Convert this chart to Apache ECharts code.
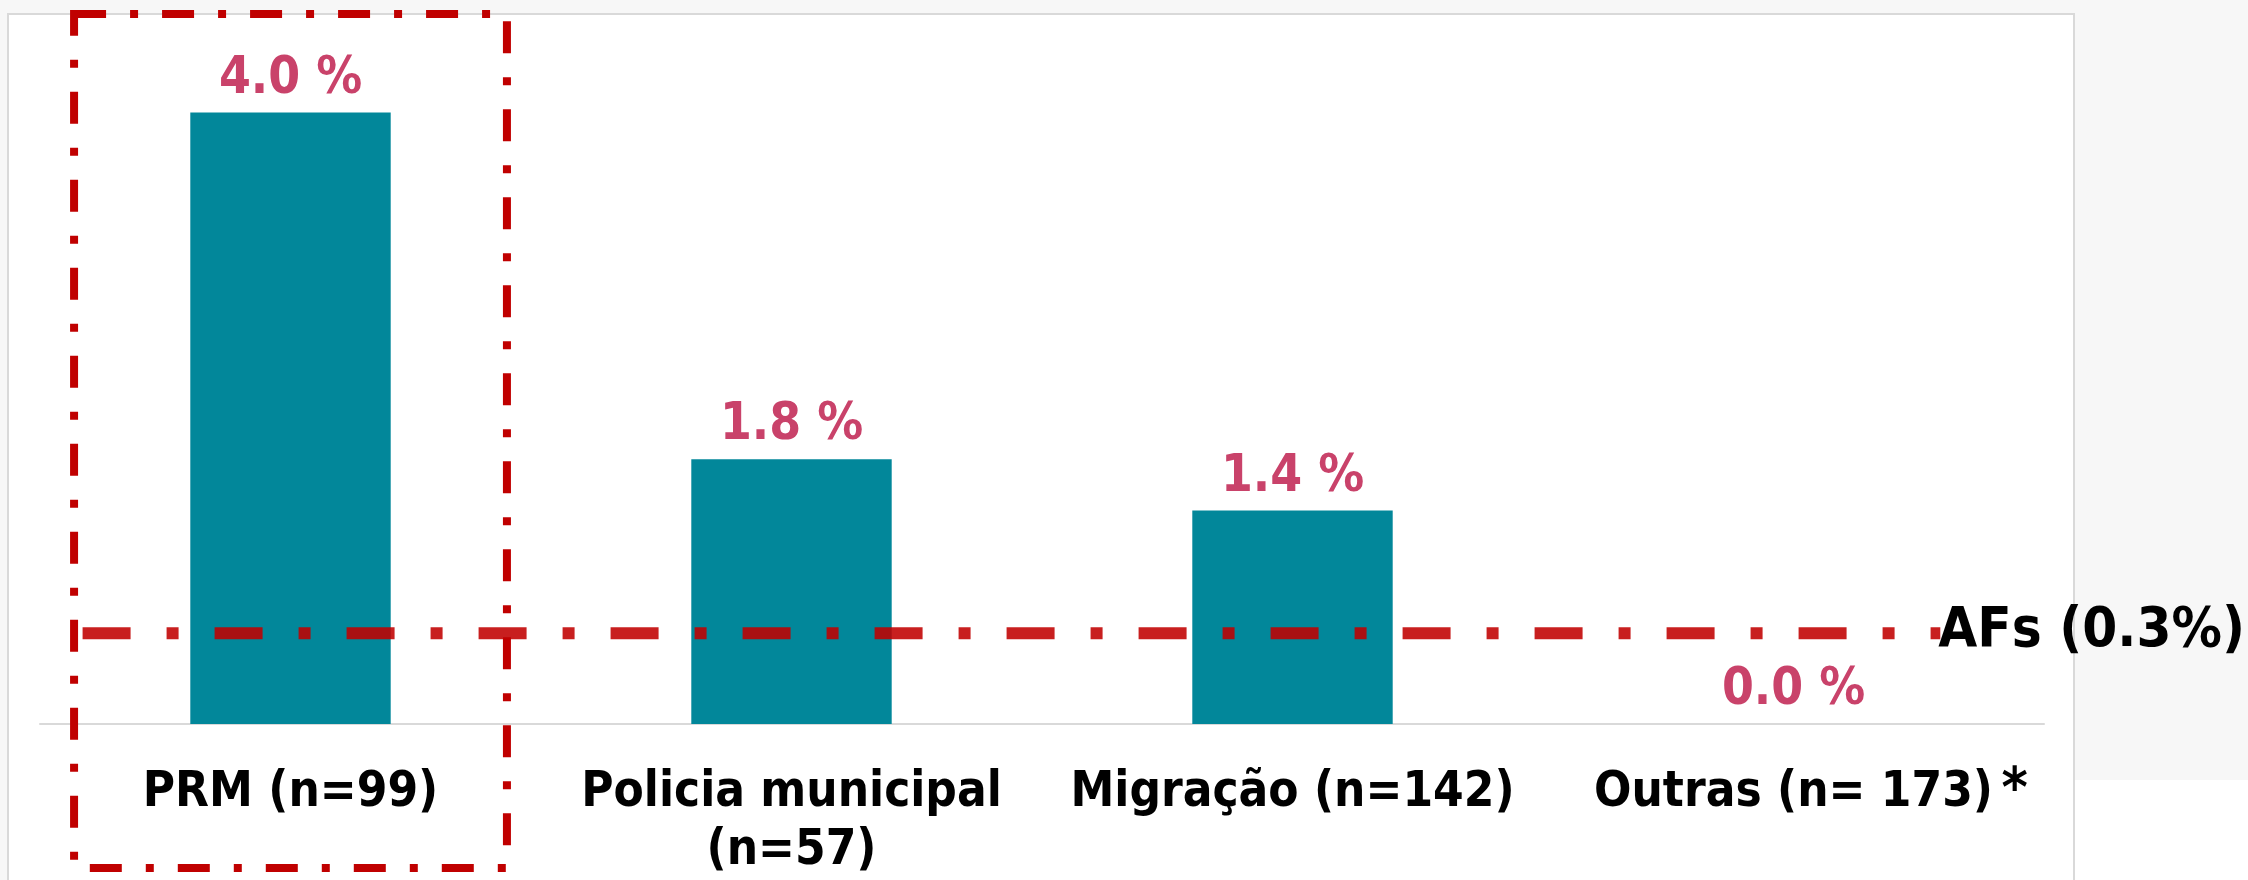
<!DOCTYPE html>
<html>
<head>
<meta charset="utf-8">
<script src="https://cdn.jsdelivr.net/npm/echarts@6/dist/echarts.min.js"></script>
<style>
  html, body { margin: 0; padding: 0; background: #f7f7f7; }
  #chart { width: 2248px; height: 880px; }
</style>
</head>
<body>
<div id="chart"></div>
<script>
// data
const categories = ["PRM (n=99)", "Policia municipal\n(n=57)", "Migração (n=142)", "Outras (n= 173)"]
const values = [4.04, 1.75, 1.41, 0]
const afsLevel = 0.6
const afsLabel = "AFs (0.3%)"
const footnoteMark = "*"

const FONT = '"DejaVu Sans Condensed", "DejaVu Sans", sans-serif'

const chart = echarts.init(document.getElementById("chart"))

chart.setOption({
  backgroundColor: "#f7f7f7",
  animation: false,
  grid: { left: 40, right: 204, top: 43, bottom: 153 },
  xAxis: {
    type: "category",
    data: categories,
    axisLine: { lineStyle: { color: "#d9d9d9", width: 2 } },
    axisTick: { show: false },
    axisLabel: {
      interval: 0,
      margin: 40,
      color: "#000",
      fontFamily: FONT,
      fontWeight: "bold",
      fontSize: 49,
      lineHeight: 58,
    },
  },
  yAxis: { type: "value", min: 0, max: 4.5, show: false },
  series: [
    {
      type: "bar",
      data: values,
      barWidth: "40%",
      itemStyle: { color: "#02879a" },
      label: {
        show: true,
        position: "top",
        distance: 8,
        formatter: (p) => p.value.toFixed(1) + " %",
        color: "#c9426a",
        fontFamily: FONT,
        fontWeight: "bold",
        fontSize: 51,
        lineHeight: 50,
      },
    },
  ],
})

// annotations placed from the axes
const x0 = chart.convertToPixel({ xAxisIndex: 0 }, categories[0])
const x1 = chart.convertToPixel({ xAxisIndex: 0 }, categories[1])
const x3 = chart.convertToPixel({ xAxisIndex: 0 }, categories[3])
const band = x1 - x0
const yAfs = chart.convertToPixel({ yAxisIndex: 0 }, afsLevel)

chart.setOption({
  graphic: [
    {
      type: "rect",
      z: -10,
      shape: { x: 8, y: 14, width: 2066, height: 900 },
      style: { fill: "#fff", stroke: "#d9d9d9", lineWidth: 2 },
    },
    {
      type: "rect",
      z: -10,
      shape: { x: 2075, y: 780, width: 173, height: 100 },
      style: { fill: "#fff" },
    },
    {
      type: "rect",
      z: 50,
      shape: { x: x0 - 0.432 * band, y: 14, width: 0.864 * band, height: 854 },
      style: { fill: null, stroke: "#c00000", lineWidth: 8, lineDash: [32, 24, 8, 24] },
    },
    {
      type: "line",
      z: 60,
      shape: { x1: x0 - 0.415 * band, y1: yAfs, x2: x3 + 0.293 * band, y2: yAfs },
      style: { stroke: "rgba(192,0,0,0.88)", lineWidth: 12, lineDash: [48, 36, 12, 36] },
    },
    {
      type: "text",
      z: 70,
      x: x3 + 0.289 * band,
      y: yAfs - 2,
      style: {
        text: afsLabel,
        fill: "#000",
        fontFamily: FONT,
        fontWeight: "bold",
        fontSize: 56,
        verticalAlign: "middle",
      },
    },
    {
      type: "text",
      z: 70,
      x: x3 + 208,
      y: 791,
      style: {
        text: footnoteMark,
        fill: "#000",
        fontFamily: FONT,
        fontWeight: "bold",
        fontSize: 56,
        verticalAlign: "middle",
      },
    },
  ],
})
</script>
</body>
</html>
